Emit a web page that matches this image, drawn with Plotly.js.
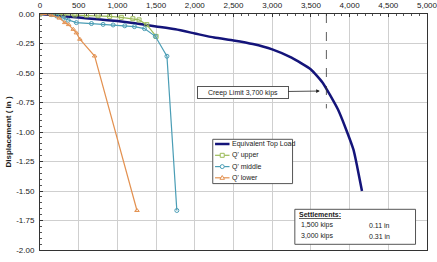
<!DOCTYPE html>
<html>
<head>
<meta charset="utf-8">
<script src="https://cdn.plot.ly/plotly-3.0.1.min.js"></script>
<style>html,body{margin:0;padding:0;background:#fff;}#chart{width:437px;height:262px;}</style>
</head>
<body>
<div id="chart"></div>
<script>
// Equivalent Top Load (kips) vs displacement (in)
const topLoadX = [0, 250, 500, 750, 1000, 1250, 1500, 1750, 2000, 2250, 2500, 2750, 3000, 3250, 3500, 3650, 3750, 3850, 3950, 4050, 4100, 4160];
const topLoadY = [0, -0.015, -0.03, -0.045, -0.06, -0.08, -0.105, -0.13, -0.165, -0.2, -0.225, -0.255, -0.3, -0.37, -0.47, -0.58, -0.69, -0.81, -0.97, -1.15, -1.30, -1.50];

const upperX = [0, 150, 300, 450, 600, 750, 900, 1050, 1200, 1280, 1380, 1500];
const upperY = [0, -0.003, -0.005, -0.008, -0.01, -0.015, -0.02, -0.028, -0.04, -0.05, -0.09, -0.19];

const middleX = [0, 150, 215, 300, 365, 470, 665, 815, 945, 1095, 1220, 1350, 1490, 1640, 1768];
const middleY = [0, -0.005, -0.017, -0.036, -0.053, -0.073, -0.081, -0.088, -0.093, -0.1, -0.107, -0.124, -0.189, -0.358, -1.665];

const lowerX = [0, 150, 250, 320, 370, 430, 470, 515, 706, 1253];
const lowerY = [0, -0.01, -0.035, -0.073, -0.09, -0.13, -0.16, -0.214, -0.356, -1.665];

const seriesNames = ['Equivalent Top Load', "Q' upper", "Q' middle", "Q' lower"];
const seriesColors = ['#14147A', '#9BBB59', '#4A9DB5', '#E39150'];

const xTickVals = [0, 500, 1000, 1500, 2000, 2500, 3000, 3500, 4000, 4500, 5000];
const xTickText = ['0', '500', '1,000', '1,500', '2,000', '2,500', '3,000', '3,500', '4,000', '4,500', '5,000'];
const yTickVals = [0, -0.25, -0.5, -0.75, -1, -1.25, -1.5, -1.75, -2];
const yTickText = ['0.00', '-0.25', '-0.50', '-0.75', '-1.00', '-1.25', '-1.50', '-1.75', '-2.00'];

const creepLimit = 3700;
const creepLabel = 'Creep Limit 3,700 kips';
const settleTitle = 'Settlements:';
const settleLoads = ['1,500 kips', '3,000 kips'];
const settleVals = ['0.11 in', '0.31 in'];

const FONT = 'Liberation Sans, Arial, sans-serif';
const TXT = '#1a1a1a';

const traces = [
  {x: topLoadX, y: topLoadY, name: seriesNames[0], mode: 'lines',
   line: {color: seriesColors[0], width: 2.5, shape: 'spline', smoothing: 0.5}},
  {x: upperX, y: upperY, name: seriesNames[1], mode: 'lines+markers',
   line: {color: seriesColors[1], width: 1.2},
   marker: {symbol: 'square-open', size: 4, color: seriesColors[1], line: {width: 1}}},
  {x: middleX, y: middleY, name: seriesNames[2], mode: 'lines+markers',
   line: {color: seriesColors[2], width: 1.2},
   marker: {symbol: 'circle-open', size: 4, color: seriesColors[2], line: {width: 1}}},
  {x: lowerX, y: lowerY, name: seriesNames[3], mode: 'lines+markers',
   line: {color: seriesColors[3], width: 1.2},
   marker: {symbol: 'triangle-up-open', size: 4, color: seriesColors[3], line: {width: 1}}}
];

const px2paperX = p => (p - 39.5) / 388;
const px2paperY = p => (249.7 - p) / 236;

const annotations = [
  {x: 3615, y: -0.653, xref: 'x', yref: 'y', text: creepLabel, showarrow: true,
   ax: -77, ay: 1, arrowhead: 2, arrowsize: 0.9, arrowwidth: 0.8, arrowcolor: '#222',
   font: {family: FONT, size: 7, color: TXT}, bordercolor: '#555', borderwidth: 1,
   borderpad: 1, bgcolor: '#fff', width: 88, height: 9},
  {x: px2paperX(297), y: px2paperY(214), xref: 'paper', yref: 'paper', xanchor: 'left', yanchor: 'middle',
   text: '<b><u>' + settleTitle + '</u></b>', showarrow: false, font: {family: FONT, size: 7, color: TXT}}
];
const rowY = [224.7, 235.7];
settleLoads.forEach((t, i) => {
  annotations.push({x: px2paperX(299), y: px2paperY(rowY[i]), xref: 'paper', yref: 'paper', xanchor: 'left', yanchor: 'middle',
    text: t, showarrow: false, font: {family: FONT, size: 7, color: TXT}});
  annotations.push({x: px2paperX(367), y: px2paperY(rowY[i]), xref: 'paper', yref: 'paper', xanchor: 'left', yanchor: 'middle',
    text: settleVals[i], showarrow: false, font: {family: FONT, size: 7, color: TXT}});
});

const shapes = [
  {type: 'line', xref: 'x', yref: 'y', x0: creepLimit, x1: creepLimit, y0: 0, y1: -0.8,
   line: {color: '#333', width: 0.8, dash: 'dash'}},
  {type: 'rect', xref: 'paper', yref: 'paper', x0: px2paperX(295), x1: px2paperX(416),
   y0: px2paperY(244), y1: px2paperY(209), line: {color: '#555', width: 1}, fillcolor: '#fff', layer: 'above'},
  // legend box
  {type: 'rect', xref: 'paper', yref: 'paper', x0: px2paperX(212.7), x1: px2paperX(292.7),
   y0: px2paperY(183.3), y1: px2paperY(139), line: {color: '#555', width: 1}, fillcolor: '#fff', layer: 'above'}
];

// compact legend (drawn as shapes + text)
const legRows = [143.7, 155, 166.3, 177.5];
const markerSymbols = [null, 'square', 'circle', 'triangle'];
seriesNames.forEach((name, i) => {
  const yp = px2paperY(legRows[i]);
  shapes.push({type: 'line', xref: 'paper', yref: 'paper', x0: px2paperX(215), x1: px2paperX(229.5), y0: yp, y1: yp,
    line: {color: seriesColors[i], width: i === 0 ? 2.5 : 1.2}, layer: 'above'});
  const cx = px2paperX(222.2);
  const base = {xref: 'paper', yref: 'paper', xsizemode: 'pixel', ysizemode: 'pixel', xanchor: cx, yanchor: yp,
    line: {color: seriesColors[i], width: 1}, fillcolor: '#fff', layer: 'above'};
  if (markerSymbols[i] === 'square') shapes.push(Object.assign({type: 'rect', x0: -2, x1: 2, y0: -2, y1: 2}, base));
  if (markerSymbols[i] === 'circle') shapes.push(Object.assign({type: 'circle', x0: -2, x1: 2, y0: -2, y1: 2}, base));
  if (markerSymbols[i] === 'triangle') shapes.push(Object.assign({type: 'path', path: 'M -2.3,-1.5 L 2.3,-1.5 L 0,2.3 Z'}, base));
  annotations.push({x: px2paperX(230), y: yp, xref: 'paper', yref: 'paper', xanchor: 'left', yanchor: 'middle',
    text: name, showarrow: false, font: {family: FONT, size: 7, color: TXT}});
});

const layout = {
  width: 437, height: 262,
  margin: {l: 39.5, r: 9.5, t: 13.7, b: 12.3},
  paper_bgcolor: '#fff', plot_bgcolor: '#fff',
  font: {family: FONT, size: 8, color: TXT},
  showlegend: false,
  xaxis: {side: 'top', range: [0, 5000], tickmode: 'array', tickvals: xTickVals, ticktext: xTickText,
    showgrid: true, gridcolor: '#cfcfcf', gridwidth: 1, zeroline: false,
    showline: true, linecolor: '#333', linewidth: 1, mirror: true,
    ticks: 'inside', ticklen: 3, tickcolor: '#333', ticklabelstandoff: 2, ticklabeloverflow: 'allow',
    minor: {dtick: 100, tick0: 0, ticks: 'inside', ticklen: 2, tickcolor: '#555', showgrid: false},
    tickfont: {family: FONT, size: 8, color: TXT}, fixedrange: true},
  yaxis: {range: [-2, 0], tickmode: 'array', tickvals: yTickVals, ticktext: yTickText,
    showgrid: true, gridcolor: '#cfcfcf', gridwidth: 1, zeroline: false,
    showline: true, linecolor: '#333', linewidth: 1, mirror: true,
    ticks: 'inside', ticklen: 3, tickcolor: '#333', ticklabelstandoff: 3,
    minor: {dtick: 0.05, tick0: 0, ticks: 'inside', ticklen: 2, tickcolor: '#555', showgrid: false},
    tickfont: {family: FONT, size: 8, color: TXT},
    title: {text: '<b>Displacement ( in )</b>', font: {family: FONT, size: 8, color: TXT}, standoff: 3},
    fixedrange: true},
  annotations: annotations,
  shapes: shapes
};

Plotly.newPlot('chart', traces, layout, {staticPlot: true, displayModeBar: false});
</script>
</body>
</html>
